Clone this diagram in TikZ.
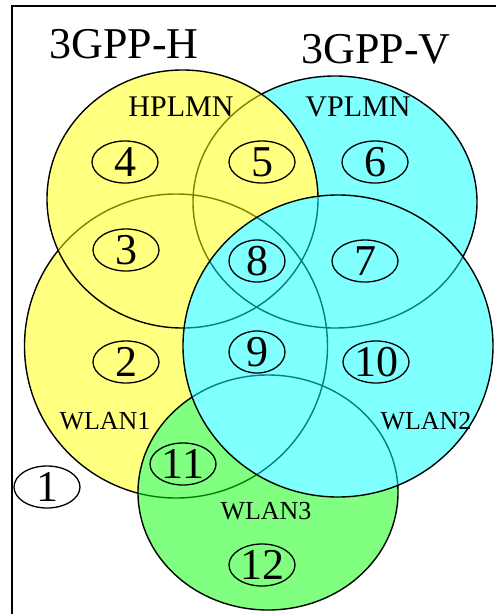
\documentclass[tikz,border=0pt]{standalone}
\usepackage{fontspec}
\setmainfont{Liberation Serif}
\usetikzlibrary{shapes.geometric}
\definecolor{yfill}{RGB}{255,255,128}
\definecolor{cfill}{RGB}{128,255,255}
\definecolor{gfill}{RGB}{128,255,128}
\definecolor{yline}{RGB}{128,128,0}
\definecolor{cline}{RGB}{0,128,128}
\definecolor{gline}{RGB}{0,128,0}
\def\eWA{(176,346) ellipse [x radius=151.5pt, y radius=152pt]}
\def\eV{(335,202) ellipse [x radius=142pt, y radius=126pt]}
\def\eH{(182.5,199) ellipse [x radius=135.5pt, y radius=129pt]}
\def\eWC{(268,492.5) ellipse [x radius=130pt, y radius=117.5pt]}
\def\eWB{(338,346) ellipse [x radius=155pt, y radius=151pt]}
\tikzset{
  rim/.style={line width=1.4pt},
  num/.style={draw, ellipse, line width=1.3pt, inner sep=0pt,
    minimum width=66pt, minimum height=42pt,
    font=\fontsize{44pt}{44pt}\selectfont},
  numn/.style={num, minimum width=56pt},
  title/.style={font=\fontsize{44pt}{44pt}\selectfont, inner sep=0pt},
  plmn/.style={font=\fontsize{30pt}{30pt}\selectfont, inner sep=0pt},
  wlan/.style={font=\fontsize{26pt}{26pt}\selectfont, inner sep=0pt},
}
\begin{document}
\begin{tikzpicture}[x=1pt, y=-1pt]
\useasboundingbox (0,0) rectangle (496,614);
\fill[white] (0,0) rectangle (496,614);
% WLAN1
\fill[yfill] \eWA;
\draw[rim] \eWA;
% VPLMN
\fill[cfill] \eV;
\begin{scope}\clip \eV; \draw[rim, cline] \eWA; \end{scope}
\draw[rim] \eV;
% HPLMN
\fill[yfill] \eH;
\begin{scope}\clip \eH; \draw[rim, yline] \eWA \eV; \end{scope}
\draw[rim] \eH;
% WLAN3
\fill[gfill] \eWC;
\begin{scope}\clip \eWC; \draw[rim, gline] \eWA \eV \eH; \end{scope}
\draw[rim] \eWC;
% WLAN2
\fill[cfill] \eWB;
\begin{scope}\clip \eWB; \draw[rim, cline] \eWA \eV \eH \eWC; \end{scope}
\draw[rim] \eWB;
% frame
\draw[line width=2.4pt] (12,614) -- (12,6) -- (496,6);
% titles
\node[title] (tH) at (124,44) {3GPP-H};
\node[title] (tV) at (376,49) {3GPP-V};
\node[plmn] (lH) at (181,107) {HPLMN};
\node[plmn] (lV) at (358,107) {VPLMN};
\node[wlan] (lW1) at (105,421) {WLAN1};
\node[wlan] (lW2) at (426,421) {WLAN2};
\node[wlan] (lW3) at (266,511) {WLAN3};
% numbers
\node[num] (n1) at (47,487) {1};
\node[num] (n2) at (126,362) {2};
\node[num] (n3) at (126,250) {3};
\node[num] (n4) at (125,162) {4};
\node[num] (n5) at (262,162) {5};
\node[num] (n6) at (375,162) {6};
\node[num] (n7) at (365,261) {7};
\node[numn] (n8) at (257,261) {8};
\node[numn] (n9) at (257,352) {9};
\node[num] (n10) at (376,362) {10};
\node[num] (n11) at (183,464) {11};
\node[num] (n12) at (262,565) {12};
\end{tikzpicture}
\end{document}
